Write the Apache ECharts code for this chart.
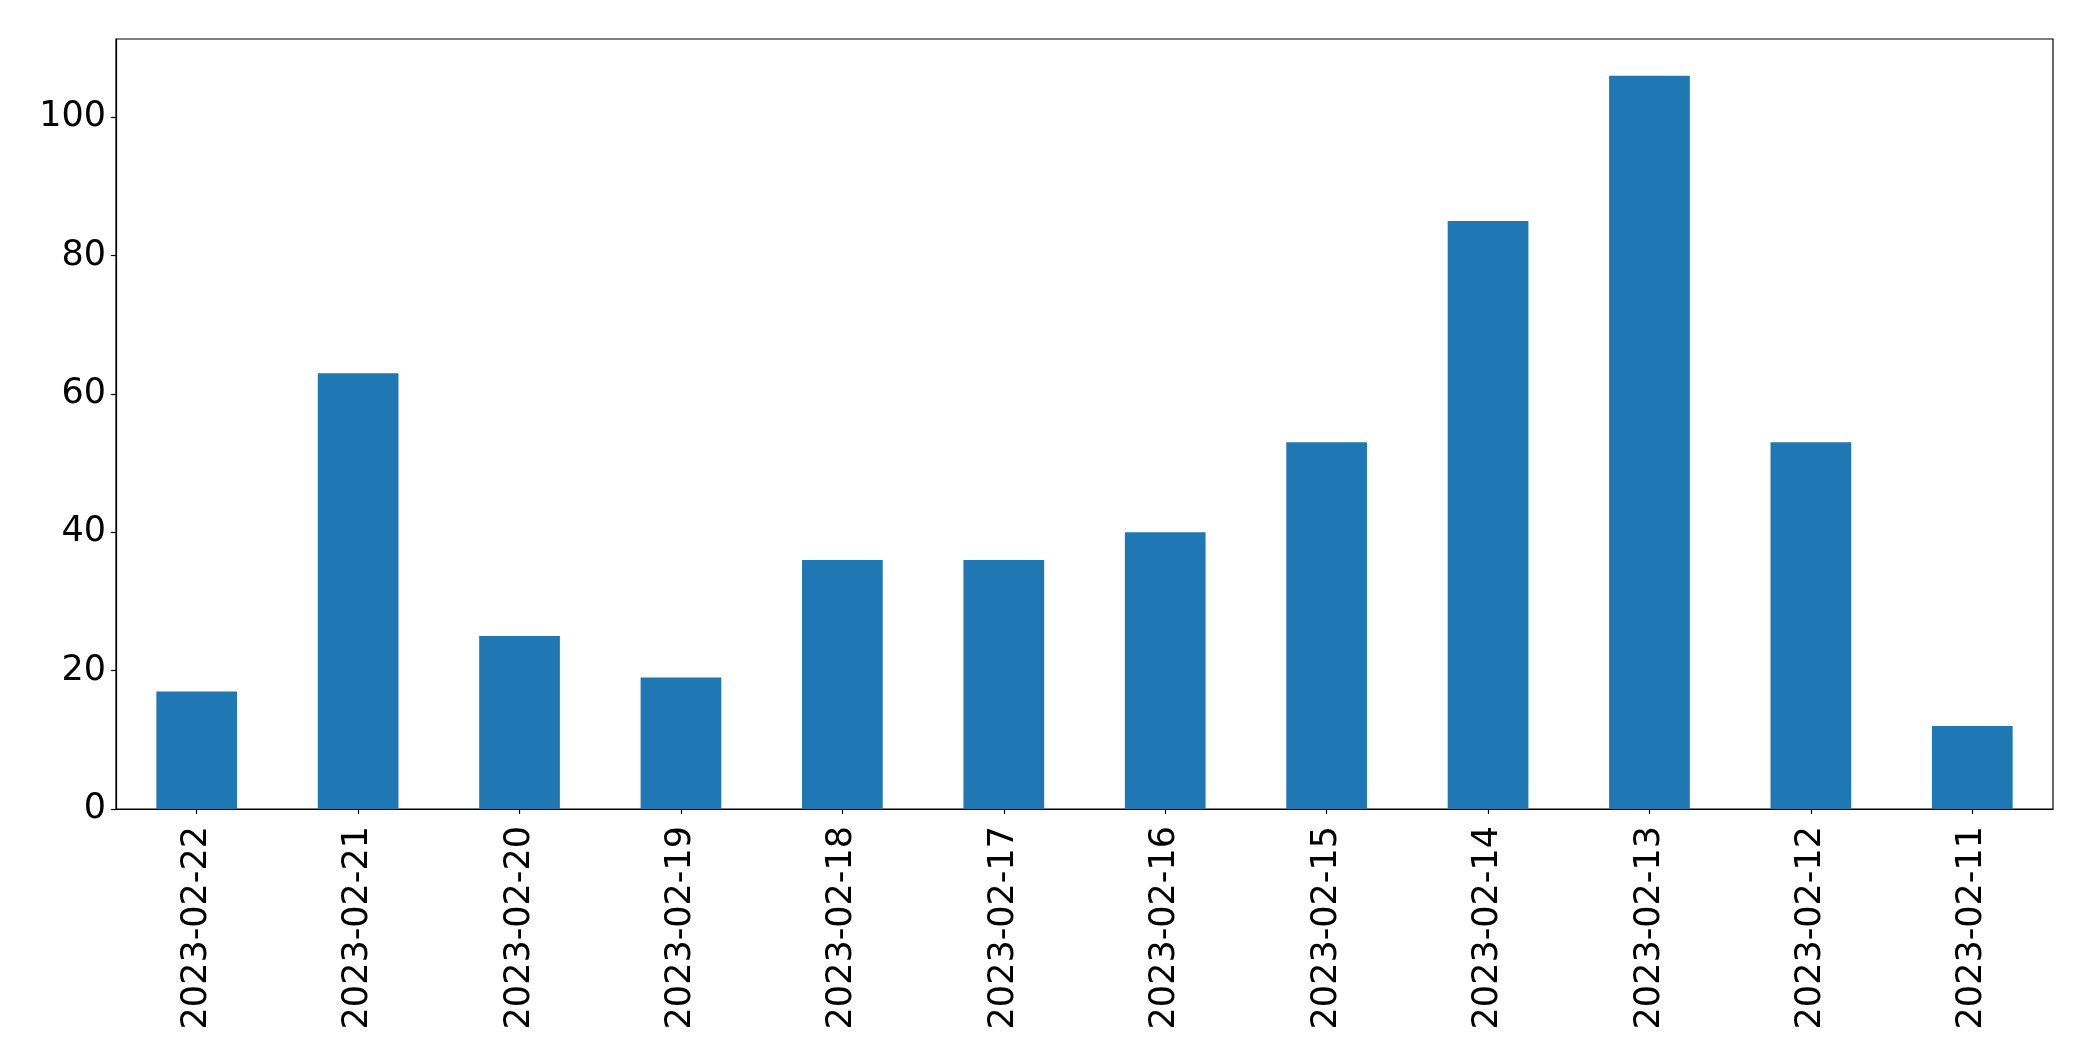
<!DOCTYPE html>
<html>
<head>
<meta charset="utf-8">
<title>Daily counts</title>
<script src="https://cdn.jsdelivr.net/npm/echarts@6/dist/echarts.min.js"></script>
<style>
  html, body { margin: 0; padding: 0; background: #fff; }
  #chart { width: 2093px; height: 1061px; }
</style>
</head>
<body>
<div id="chart"></div>
<script>
// data
var dates = ['2023-02-22', '2023-02-21', '2023-02-20', '2023-02-19', '2023-02-18', '2023-02-17',
             '2023-02-16', '2023-02-15', '2023-02-14', '2023-02-13', '2023-02-12', '2023-02-11'];
var counts = [17, 63, 25, 19, 36, 36, 40, 53, 85, 106, 53, 12];
var yTicks = [0, 20, 40, 60, 80, 100];

var chart = echarts.init(document.getElementById('chart'));

var font = 'DejaVu Sans';

chart.setOption({
  animation: false,
  grid: {
    left: 116, right: 40, top: 39, bottom: 252,
    show: true, borderColor: '#000', borderWidth: 1.2,
    backgroundColor: 'transparent'
  },
  xAxis: {
    type: 'category',
    data: dates,
    boundaryGap: true,
    axisLine: { show: true, lineStyle: { color: '#000', width: 1.2 } },
    axisTick: { show: true, alignWithLabel: true, length: 5, lineStyle: { color: '#000', width: 1.2 } },
    axisLabel: {
      interval: 0, rotate: 90, margin: 17,
      color: '#000', fontFamily: font, fontSize: 35
    },
    splitLine: { show: false }
  },
  yAxis: {
    type: 'value',
    min: 0, max: 111.3, interval: 20,
    axisLine: { show: true, lineStyle: { color: '#000', width: 1.2 } },
    axisTick: { show: true, length: 5, customValues: yTicks, lineStyle: { color: '#000', width: 1.2 } },
    axisLabel: {
      customValues: yTicks, margin: 10,
      color: '#000', fontFamily: font, fontSize: 35
    },
    splitLine: { show: false }
  },
  series: [{
    type: 'bar',
    data: counts,
    barWidth: '50%',
    itemStyle: { color: '#1f77b4' }
  }]
});
</script>
</body>
</html>
